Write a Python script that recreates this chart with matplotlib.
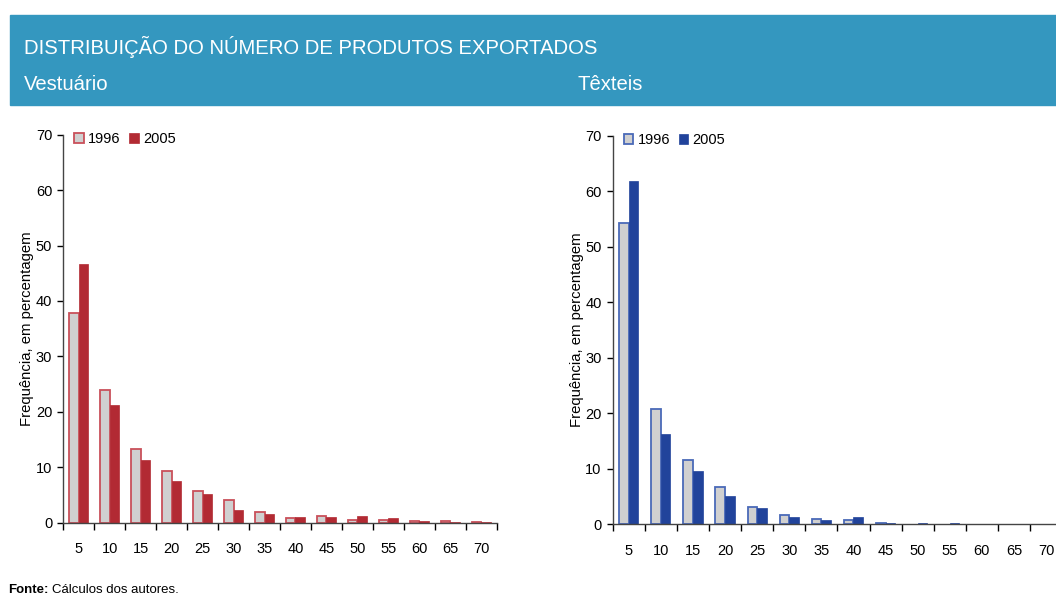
import numpy as np
import matplotlib.pyplot as plt
from matplotlib.patches import Rectangle

plt.rcParams["font.family"] = ["Liberation Sans", "DejaVu Sans"]

# categorias (número de produtos exportados)
categorias = ["5", "10", "15", "20", "25", "30", "35", "40", "45", "50", "55", "60", "65", "70"]
anos = ["1996", "2005"]

# Vestuário, frequência em %
vest_1996 = [37.9, 23.9, 13.3, 9.4, 5.7, 4.15, 1.9, 0.9, 1.25, 0.4, 0.4, 0.3, 0.35, 0.2]
vest_2005 = [46.6, 21.2, 11.4, 7.5, 5.1, 2.35, 1.5, 1.0, 1.0, 1.2, 0.8, 0.3, 0.05, 0.2]

# Têxteis, frequência em %
text_1996 = [54.2, 20.7, 11.5, 6.7, 3.15, 1.7, 1.0, 0.85, 0.2, 0.0, 0.0, 0.0, 0.0, 0.0]
text_2005 = [61.9, 16.3, 9.6, 5.05, 3.0, 1.4, 0.8, 1.25, 0.3, 0.15, 0.15, 0.0, 0.0, 0.0]

HEADER = "#3497BF"
GRAY = "#D0D0D0"
RED = "#B22A33"
RED_EDGE = "#C9505A"
BLUE = "#21439B"
BLUE_EDGE = "#4A6AB8"


def painel(ax, v1996, v2005, cor, cor_borda):
    x = np.arange(len(categorias))
    w = 0.3
    lw1 = [1.3 if v > 0 else 0 for v in v1996]
    lw2 = [0.5 if v > 0 else 0 for v in v2005]
    ax.bar(x - w / 2, v1996, w, color=GRAY, edgecolor=cor_borda, linewidth=lw1, label=anos[0])
    ax.bar(x + w / 2, v2005, w, color=cor, edgecolor=cor, linewidth=lw2, label=anos[1])

    ax.set_xlim(-0.5, len(categorias) - 0.5)
    ax.set_ylim(0, 70)
    ax.set_yticks(range(0, 71, 10))
    ax.set_xticks(x)
    ax.set_xticklabels(categorias, fontsize=10.5)
    ax.set_xticks(np.arange(-0.5, len(categorias)), minor=True)
    ax.tick_params(axis="x", which="major", length=0, pad=14)
    ax.tick_params(axis="x", which="minor", length=5, width=1, direction="out")
    ax.tick_params(axis="y", length=4, width=1, labelsize=10.5, pad=4)

    for s in ["top", "right"]:
        ax.spines[s].set_visible(False)
    for s in ["left", "bottom"]:
        ax.spines[s].set_color("#444444")
        ax.spines[s].set_linewidth(1)

    ax.set_ylabel("Frequência, em percentagem", fontsize=10.7, labelpad=1)
    leg = ax.legend(loc="upper left", bbox_to_anchor=(0.005, 1.03), ncol=2, frameon=False,
                    fontsize=10.5, handlelength=0.65, handleheight=0.65, handletextpad=0.3,
                    columnspacing=0.6, borderaxespad=0.2)
    leg.legend_handles[0].set_linewidth(1.3)


fig = plt.figure(figsize=(10.56, 6.08), dpi=100)

# faixa do título
fig.patches.append(Rectangle((10 / 1056, 1 - 105 / 608), 1 - 10 / 1056, 90 / 608,
                             transform=fig.transFigure, color=HEADER, zorder=0))
fig.text(24 / 1056, 1 - 47 / 608, "DISTRIBUIÇÃO DO NÚMERO DE PRODUTOS EXPORTADOS",
         color="white", fontsize=14.6, va="center", ha="left")
fig.text(24 / 1056, 1 - 84 / 608, "Vestuário", color="white", fontsize=14.6, va="center")
fig.text(578 / 1056, 1 - 84 / 608, "Têxteis", color="white", fontsize=14.6, va="center")

ax1 = fig.add_axes([63.3 / 1056, 1 - 522.7 / 608, 433.4 / 1056, 388 / 608])
painel(ax1, vest_1996, vest_2005, RED, RED_EDGE)

ax2 = fig.add_axes([612.7 / 1056, 1 - 524.3 / 608, 449.4 / 1056, 388.6 / 608])
painel(ax2, text_1996, text_2005, BLUE, BLUE_EDGE)

# fonte
t = fig.text(8 / 1056, 1 - 590 / 608, "Fonte:", fontsize=9.5, fontweight="bold", va="center")
r = fig.canvas.get_renderer()
x_fim = t.get_window_extent(r).x1
fig.text((x_fim + 4) / 1056, 1 - 590 / 608, "Cálculos dos autores.", fontsize=9.5, va="center")

fig.savefig("out.png", dpi=100)
